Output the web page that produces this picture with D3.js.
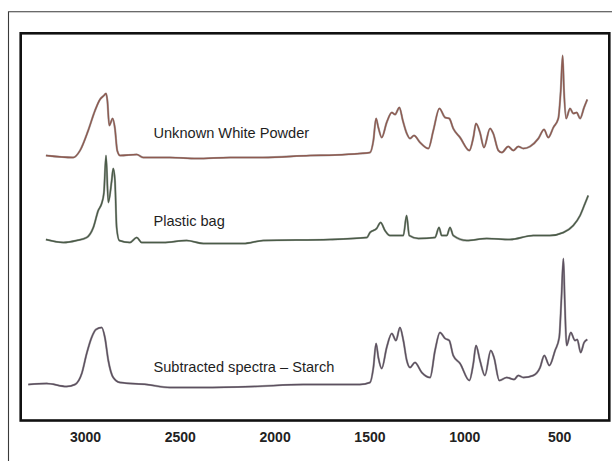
<!DOCTYPE html>
<html>
<head>
<meta charset="utf-8">
<script src="https://cdn.jsdelivr.net/npm/d3@7"></script>
<style>
  html, body { margin: 0; padding: 0; background: #fff; }
  svg { display: block; }
</style>
</head>
<body>
<svg id="chart" width="612" height="461"></svg>
<script>
// Wavenumber (cm-1) axis ticks
const tickLabels = [3000, 2500, 2000, 1500, 1000, 500];

// Series names
const seriesNames = ["Unknown White Powder", "Plastic bag", "Subtracted spectra \u2013 Starch"];

// Unknown White Powder: [wavenumber, stacked intensity (a.u.)]
const unknownPowder = [
  [3206,2.65],[3062,2.63],[3026,2.70],[2983,2.90],[2947,3.10],[2921,3.21],[2900,3.25],[2889,3.27],
  [2882,3.20],[2872,2.95],[2854,3.02],[2842,2.92],[2830,2.70],[2815,2.65],[2727,2.66],[2693,2.63],
  [2552,2.63],[2411,2.62],[2235,2.63],[2061,2.63],[1813,2.65],[1681,2.655],[1550,2.67],[1497,2.68],
  [1479,2.80],[1465,3.02],[1453,2.93],[1435,2.83],[1409,2.98],[1382,3.08],[1365,3.06],[1342,3.13],
  [1324,3.00],[1303,2.87],[1286,2.82],[1265,2.85],[1233,2.78],[1189,2.72],[1163,2.90],[1131,3.12],
  [1101,3.03],[1079,3.02],[1058,2.92],[1022,2.83],[973,2.70],[952,2.83],[938,2.97],[917,2.88],
  [896,2.73],[864,2.92],[847,2.87],[820,2.70],[802,2.68],[768,2.74],[741,2.70],[715,2.74],
  [688,2.72],[653,2.74],[609,2.82],[579,2.91],[557,2.83],[530,2.93],[504,3.02],[491,3.30],
  [481,3.65],[474,3.30],[463,3.02],[442,3.12],[425,3.07],[407,3.08],[389,3.02],[368,3.13],[351,3.21]
];

// Plastic bag
const plasticBag = [
  [3206,1.81],[3114,1.78],[3044,1.80],[2991,1.83],[2956,1.93],[2930,2.10],[2912,2.17],[2900,2.28],
  [2889,2.65],[2877,2.18],[2859,2.40],[2851,2.52],[2842,2.40],[2833,1.93],[2819,1.80],[2763,1.78],
  [2727,1.83],[2701,1.78],[2587,1.78],[2464,1.80],[2376,1.77],[2165,1.77],[2060,1.80],[1708,1.81],
  [1513,1.83],[1497,1.88],[1462,1.92],[1441,1.98],[1418,1.90],[1392,1.85],[1321,1.85],[1304,2.05],
  [1290,1.85],[1242,1.82],[1154,1.83],[1133,1.93],[1119,1.85],[1092,1.85],[1075,1.93],[1058,1.85],
  [987,1.80],[881,1.82],[759,1.81],[636,1.85],[548,1.85],[477,1.88],[425,1.95],[389,2.05],
  [363,2.17],[346,2.25]
];

// Subtracted spectra - Starch
const starch = [
  [3299,0.36],[3202,0.37],[3097,0.34],[3053,0.36],[3017,0.47],[2991,0.67],[2965,0.83],[2942,0.91],
  [2912,0.93],[2895,0.83],[2877,0.60],[2851,0.43],[2815,0.38],[2675,0.36],[2552,0.33],[2376,0.33],
  [2112,0.34],[1849,0.36],[1602,0.36],[1550,0.36],[1497,0.38],[1479,0.53],[1465,0.77],[1453,0.63],
  [1435,0.52],[1409,0.73],[1382,0.87],[1360,0.80],[1339,0.93],[1321,0.80],[1303,0.60],[1286,0.53],
  [1260,0.58],[1224,0.48],[1180,0.43],[1154,0.70],[1128,0.88],[1101,0.82],[1079,0.80],[1058,0.65],
  [1022,0.57],[973,0.40],[952,0.57],[938,0.75],[917,0.60],[891,0.45],[860,0.70],[843,0.63],
  [815,0.40],[776,0.43],[737,0.41],[715,0.45],[688,0.43],[636,0.45],[600,0.53],[578,0.65],
  [551,0.55],[521,0.70],[499,0.83],[488,1.20],[477,1.62],[470,1.20],[460,0.75],[438,0.88],
  [416,0.80],[404,0.81],[386,0.68],[368,0.78],[351,0.81]
];

const seriesData = [unknownPowder, plasticBag, starch];
const seriesColors = ["#8e5a50", "#4b5c48", "#5d5060"];
const labelAnchors = [[1680, 2.83], [1680, 1.95], [1680, 0.49]]; // label position in data units

const svg = d3.select("#chart");
const box = { left: 20.7, right: 609.3, top: 33.3, bottom: 420.5 };

const x = d3.scaleLinear().domain([3339, 235]).range([box.left, box.right]);
const y = d3.scaleLinear().domain([0, 3.872]).range([box.bottom, box.top]);

// outer frame (open to the right/bottom)
svg.append("path")
  .attr("d", "M8.5,461 L8.5,11.8 L612,11.8")
  .attr("fill", "none").attr("stroke", "#3a3a3a").attr("stroke-width", 1.1);

// plot box
svg.append("rect")
  .attr("x", box.left).attr("y", box.top)
  .attr("width", box.right - box.left).attr("height", box.bottom - box.top)
  .attr("fill", "#fff").attr("stroke", "#111").attr("stroke-width", 2.6);

const line = d3.line()
  .x(d => x(d[0]))
  .y(d => y(d[1]))
  .curve(d3.curveMonotoneX);

const g = svg.append("g");
seriesData.forEach((data, i) => {
  g.append("path").datum(data)
    .attr("d", line)
    .attr("fill", "none")
    .attr("stroke", "#6e6e6e")
    .attr("stroke-width", 2.2)
    .attr("stroke-linejoin", "round")
    .attr("opacity", 0.55);
  g.append("path").datum(data)
    .attr("d", line)
    .attr("fill", "none")
    .attr("stroke", seriesColors[i])
    .attr("stroke-width", 1.4)
    .attr("stroke-linejoin", "round");
});

// series labels
seriesNames.forEach((name, i) => {
  svg.append("text")
    .attr("x", x(3000) + 68.5)
    .attr("y", y(labelAnchors[i][1]))
    .attr("font-family", "'Liberation Sans', Arial, Helvetica, sans-serif")
    .attr("font-size", 14.6)
    .attr("fill", "#1e1e1e")
    .text(name);
});

// x axis labels
const axis = d3.axisBottom(x)
  .tickValues(tickLabels)
  .tickSize(0)
  .tickPadding(12)
  .tickFormat(d3.format("d"));

const ax = svg.append("g")
  .attr("transform", `translate(0,${box.bottom})`)
  .call(axis);
ax.select(".domain").remove();
ax.selectAll("text")
  .attr("font-family", "'Liberation Sans', Arial, Helvetica, sans-serif")
  .attr("font-size", 14)
  .attr("font-weight", "bold")
  .attr("fill", "#222");
</script>
</body>
</html>
